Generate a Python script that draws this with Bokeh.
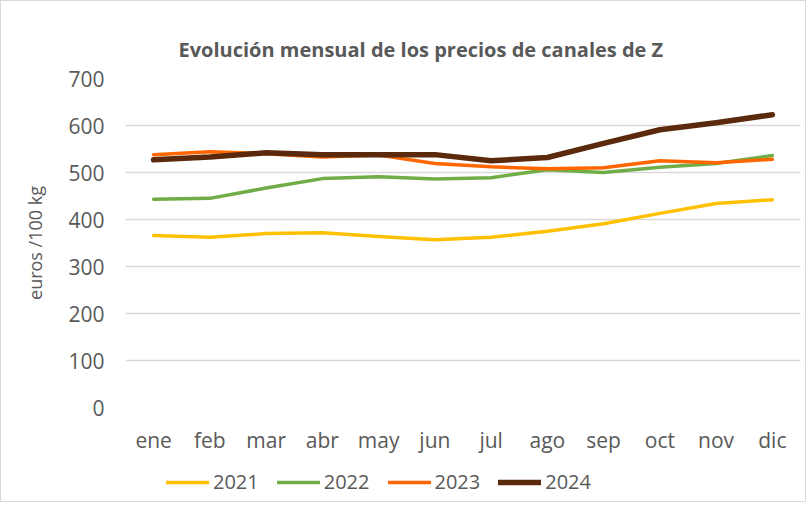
from bokeh.plotting import figure
from bokeh.layouts import column
from bokeh.models import Legend, LegendItem, SingleIntervalTicker, Range1d, FactorRange
from bokeh.embed import file_html
from bokeh.resources import INLINE

months = ["ene", "feb", "mar", "abr", "may", "jun", "jul", "ago", "sep", "oct", "nov", "dic"]
s2021 = [366, 362, 370, 372, 364, 357, 362, 375, 391, 413, 434, 442]
s2022 = [443, 445, 467, 487, 491, 486, 489, 506, 500, 511, 519, 536]
s2023 = [538, 544, 540, 533, 537, 519, 512, 508, 510, 525, 521, 528]
s2024 = [527, 533, 542, 538, 538, 538, 525, 532, 562, 591, 606, 623]
years = ["2021", "2022", "2023", "2024"]
colors = ["#FFC000", "#70AD47", "#FF6600", "#5B2A0C"]
widths = [3.5, 3.5, 3.5, 5.5]
series = [s2021, s2022, s2023, s2024]

FONT = "Open Sans"
GRAY = "#595959"

p = figure(width=804, height=460, x_range=FactorRange(*months, range_padding=0),
           y_range=Range1d(0, 700), output_backend="svg", toolbar_location=None,
           min_border_left=124, min_border_right=5, min_border_top=77, min_border_bottom=54)

for yr, data, c, w in zip(years, series, colors, widths):
    p.line(months, data, line_color=c, line_width=w, line_cap="round", line_join="round")

p.title.text = "Evolución mensual de los precios de canales de Z"
p.title.align = "left"
p.title.offset = 53
p.title.text_font = FONT
p.title.text_font_size = "20px"
p.title.text_font_style = "bold"
p.title.text_color = GRAY
p.title.standoff = 32

p.outline_line_color = None
p.xgrid.grid_line_color = None
p.ygrid.grid_line_color = "#d9d9d9"
p.ygrid.grid_line_width = 1.5

p.yaxis.ticker = SingleIntervalTicker(interval=100)
for ax in (p.xaxis, p.yaxis):
    ax.axis_line_color = None
    ax.major_tick_line_color = None
    ax.minor_tick_line_color = None
    ax.major_label_text_font = FONT
    ax.major_label_text_font_size = "21px"
    ax.major_label_text_color = GRAY
p.yaxis.major_label_standoff = 15
p.xaxis.major_label_standoff = 12
p.yaxis.axis_label = "euros /100 kg"
p.yaxis.axis_label_text_font = FONT
p.yaxis.axis_label_text_font_size = "18px"
p.yaxis.axis_label_text_font_style = "normal"
p.yaxis.axis_label_text_color = GRAY
p.yaxis.axis_label_standoff = 18

# legend strip: same series, drawn outside its visible range, only for the legend keys
p2 = figure(width=804, height=40, x_range=FactorRange(*months, range_padding=0),
            y_range=Range1d(1000, 1100), output_backend="svg", toolbar_location=None,
            x_axis_location=None, y_axis_location=None,
            min_border_left=0, min_border_right=0, min_border_top=0, min_border_bottom=0)
p2.outline_line_color = None
p2.grid.grid_line_color = None
leg_renderers = []
for yr, data, c, w in zip(years, series, colors, widths):
    leg_renderers.append(p2.line(months, data, line_color=c, line_width=w, line_cap="round"))

legend = Legend(items=[LegendItem(label=y, renderers=[r]) for y, r in zip(years, leg_renderers)],
                orientation="horizontal", location=(41, 6),
                glyph_width=43, glyph_height=20, label_standoff=4, spacing=18,
                padding=0, margin=0, border_line_color=None, background_fill_alpha=0,
                label_text_font=FONT, label_text_font_size="20px", label_text_color=GRAY)
p2.add_layout(legend, "center")

lay = column(p, p2, spacing=0)
lay.styles = {"border": "1px solid #d9d9d9"}

open("out.html", "w").write(file_html(lay, INLINE))
